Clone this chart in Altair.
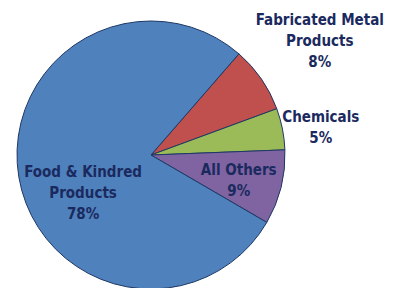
import math
import altair as alt
import pandas as pd

categories = ["Fabricated Metal Products", "Chemicals", "All Others", "Food & Kindred Products"]
values = [8, 5, 9, 78]
label_lines = [
    ["Fabricated Metal", "Products", "8%"],
    ["Chemicals", "5%"],
    ["All Others", "9%"],
    ["Food & Kindred", "Products", "78%"],
]
colors = ["#C0504D", "#9BBB59", "#8064A2", "#4F81BD"]

# label placement styling: distance of first line from centre (px) and angular nudge (degrees)
label_radius = [216, 174, 89, 70]
label_nudge_deg = [-4.0, -1.4, -4.3, -4.6]

df = pd.DataFrame({
    "category": categories,
    "value": values,
    "order": list(range(len(categories))),
    "label": label_lines,
    "lr": label_radius,
    "nudge": [d / 360 * sum(values) for d in label_nudge_deg],
})

start = math.radians(41)
theta_scale = alt.Scale(domain=[0, sum(values)], range=[start, start + 2 * math.pi])
cx, cy, R = 143, 147, 134

pie = alt.Chart(df).mark_arc(outerRadius=R, stroke="#1F3864", strokeWidth=1).encode(
    theta=alt.Theta("value:Q", stack=True, scale=theta_scale),
    order=alt.Order("order:Q"),
    color=alt.Color("category:N", scale=alt.Scale(domain=categories, range=colors), legend=None),
    x=alt.value(cx),
    y=alt.value(cy),
)

labels = alt.Chart(df).transform_stack(
    stack="value", groupby=[], as_=["v0", "v1"], sort=[alt.SortField("order")]
).transform_calculate(
    mid="(datum.v0 + datum.v1) / 2 + datum.nudge"
).mark_text(
    font="'DejaVu Sans Condensed', 'DejaVu Sans', sans-serif",
    fontWeight="bold",
    fontSize=15,
    color="#1B2A5E",
    lineHeight=21,
    align="center",
    baseline="middle",
).encode(
    theta=alt.Theta("mid:Q", stack=None, scale=theta_scale),
    radius=alt.Radius("lr:Q", scale=None),
    text="label",
    x=alt.value(cx),
    y=alt.value(cy),
)

chart = alt.layer(pie, labels).properties(
    width=378, height=280, padding=0, autosize="none", background="white"
).configure_view(stroke=None)

chart.save("out.html", embed_options={"renderer": "svg", "actions": False})
